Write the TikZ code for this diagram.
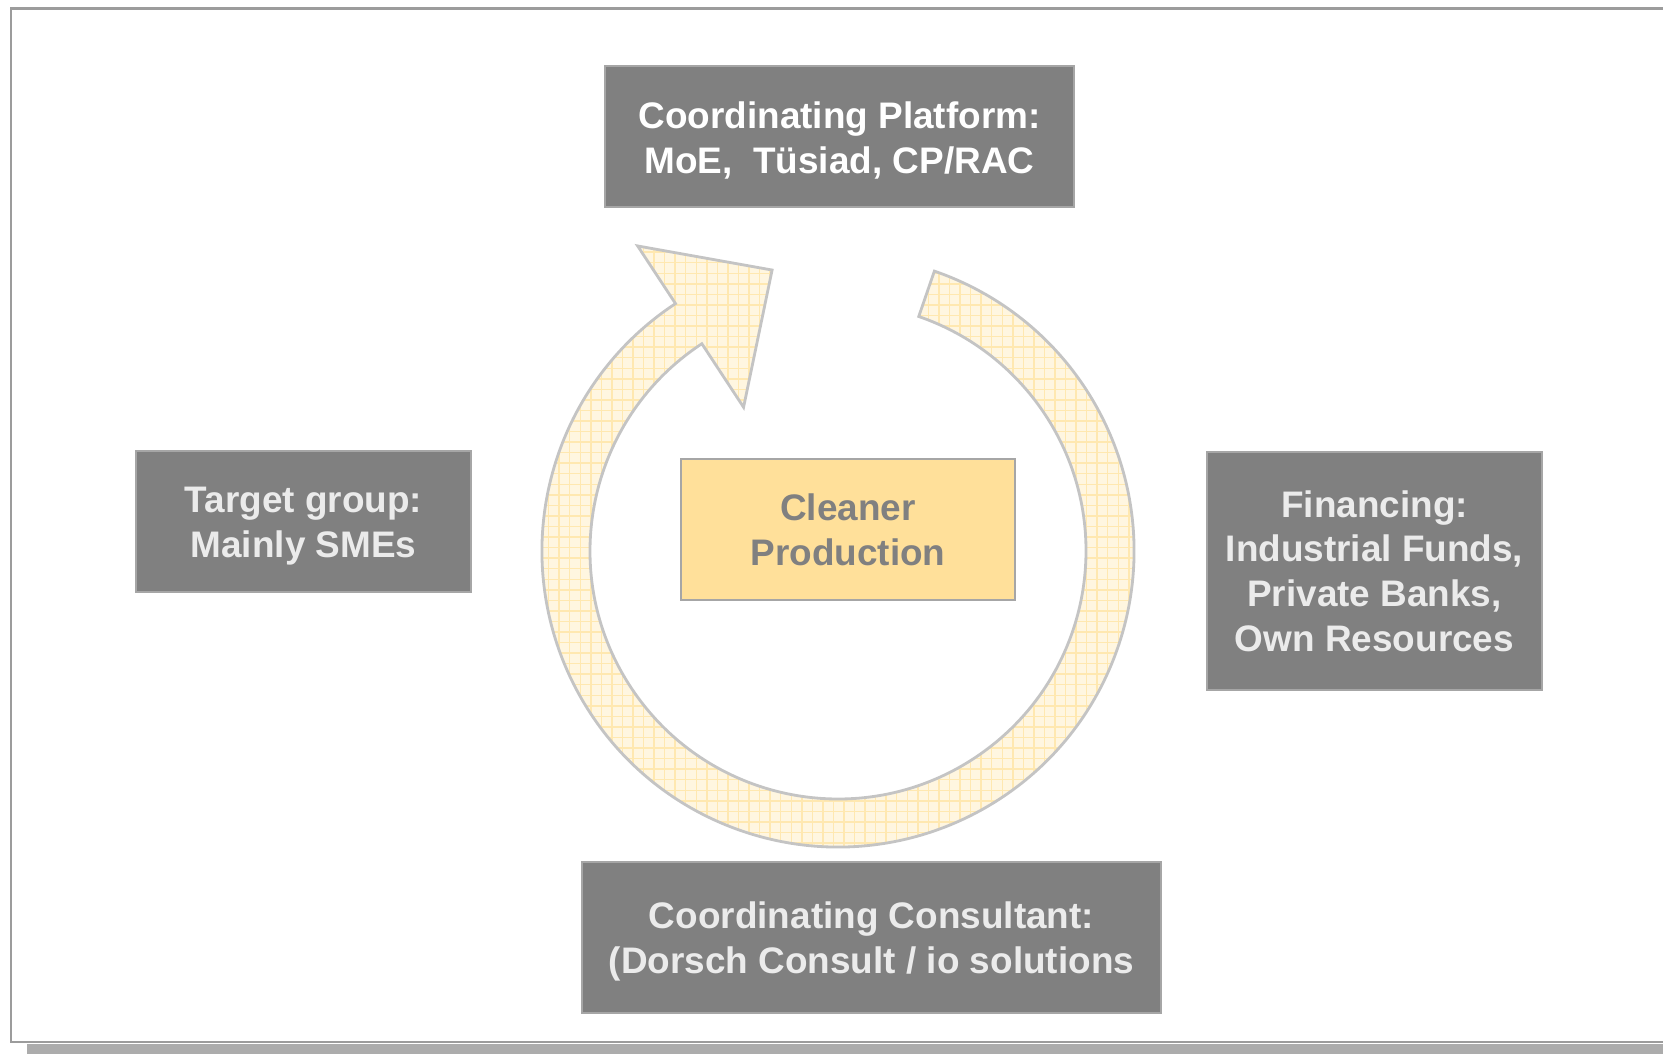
\documentclass[tikz,border=0pt]{standalone}
\usepackage{fontspec}
\setmainfont{Liberation Sans}
\usetikzlibrary{calc,patterns}
\definecolor{boxgray}{HTML}{808080}
\definecolor{edgegray}{HTML}{A6A6A6}
\definecolor{lightext}{HTML}{EBEBEB}
\definecolor{cpyellow}{HTML}{FFE09A}
\definecolor{ringfill}{HTML}{FFF6E0}
\definecolor{ringline}{HTML}{FFE8B0}
\definecolor{ringedge}{HTML}{C4C4C4}
\definecolor{framegray}{HTML}{9C9C9C}
\definecolor{shadowgray}{HTML}{ACACAC}
\newcommand{\lift}{\rule{0pt}{9.8pt}}
\begin{document}
\begin{tikzpicture}[x=0.01cm, y=0.01cm,
    actor/.style={draw=edgegray, line width=0.6pt, fill=boxgray, text=lightext, align=center,
      font=\fontsize{10.5}{12.7}\selectfont\bfseries, inner sep=0pt},
    core/.style={actor, fill=cpyellow, text=boxgray}]
    \useasboundingbox (0,0) rectangle (1663,1054);
    % frame and its shadow
    \fill[shadowgray] (27,0) rectangle (1663,10);
    \draw[framegray, line width=0.7pt] (1663,12) -- (11,12) -- (11,1045.5) -- (1663,1045.5);
    % circular arrow
    \coordinate (C) at (838,503);
    \filldraw[draw=ringedge, line width=0.8pt, preaction={fill=ringfill}, pattern=grid, pattern color=ringline]
      ($(C)+(71:296)$) arc[start angle=71, end angle=-236.7, radius=296]
      -- ($(C)+(123.3:365)$) -- ($(C)+(103.2:288.6)$) -- ($(C)+(123.3:172)$)
      -- ($(C)+(123.3:248)$) arc[start angle=-236.7, end angle=71, radius=248] -- cycle;
    \node[actor, text=white, minimum width=4.69cm, minimum height=1.41cm] (platform) at (839.5,917.5)
      {\lift Coordinating Platform:\\MoE,\ \ Tüsiad, CP/RAC};
    \node[actor, minimum width=3.35cm, minimum height=1.41cm] (target) at (303.5,532.5)
      {\lift Target group:\\Mainly SMEs};
    \node[core, minimum width=3.34cm, minimum height=1.41cm] (cp) at (848,524.5)
      {Cleaner\\Production};
    \node[actor, minimum width=3.35cm, minimum height=2.38cm] (finance) at (1374.5,483)
      {Financing:\\Industrial Funds,\\Private Banks,\\Own Resources};
    \node[actor, minimum width=5.79cm, minimum height=1.51cm] (consult) at (871.5,116.5)
      {\lift Coordinating Consultant:\\(Dorsch Consult / io solutions};
\end{tikzpicture}
\end{document}
